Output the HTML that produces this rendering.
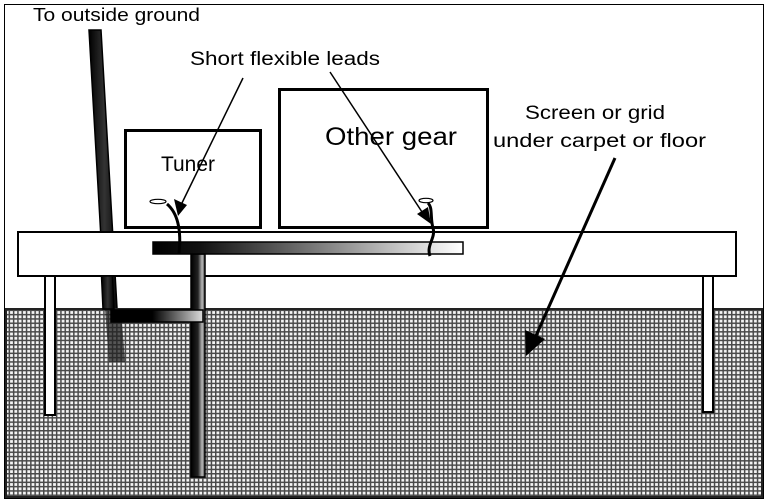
<!DOCTYPE html>
<html><head><meta charset="utf-8"><style>
html,body{margin:0;padding:0;background:#fff;}
svg{display:block;font-family:"Liberation Sans","DejaVu Sans",sans-serif;}
</style></head><body>
<svg width="768" height="502" viewBox="0 0 768 502" xmlns="http://www.w3.org/2000/svg">
<defs>
<pattern id="grid" width="4.3" height="4.3" patternUnits="userSpaceOnUse">
<rect width="4.3" height="4.3" fill="#4a4a4a"/>
<rect x="1.5" y="1.5" width="2.8" height="2.8" fill="#f4f4f4"/>
</pattern>
<linearGradient id="bus" x1="0" x2="1" y1="0" y2="0">
<stop offset="0" stop-color="#000"/><stop offset="0.15" stop-color="#111"/><stop offset="1" stop-color="#fff"/>
</linearGradient>
<linearGradient id="vbar" x1="0" x2="1">
<stop offset="0" stop-color="#000"/><stop offset="0.5" stop-color="#222"/><stop offset="0.8" stop-color="#bbb"/><stop offset="1" stop-color="#333"/>
</linearGradient>
<linearGradient id="hbar" x1="0" x2="1">
<stop offset="0" stop-color="#000"/><stop offset="0.45" stop-color="#000"/><stop offset="1" stop-color="#ddd"/>
</linearGradient>
<linearGradient id="pole" x1="0" x2="1">
<stop offset="0" stop-color="#000"/><stop offset="0.5" stop-color="#333"/><stop offset="1" stop-color="#000"/>
</linearGradient>
</defs>
<rect x="4.5" y="4.5" width="759" height="494" fill="#fff" stroke="#000" stroke-width="1"/>
<polygon points="89,30 101,30 120,360 108,360" fill="url(#pole)" stroke="#000" stroke-width="1.5"/>
<rect x="6" y="309" width="756" height="188" fill="url(#grid)" stroke="#222" stroke-width="2"/>
<polygon points="105,309 121,309 125,362 109,362" fill="#222" opacity="0.75"/>
<rect x="125.5" y="130.5" width="135" height="97" fill="#fff" stroke="#000" stroke-width="3"/>
<rect x="279.5" y="89.5" width="208" height="138" fill="#fff" stroke="#000" stroke-width="3"/>
<rect x="45" y="276" width="10" height="139" fill="#fff" stroke="#000" stroke-width="2"/>
<rect x="703" y="276" width="10" height="136" fill="#fff" stroke="#000" stroke-width="2"/>
<rect x="18" y="232" width="718" height="44" fill="#fff" stroke="#000" stroke-width="2"/>
<polygon points="101.5,276 112.5,276 114,309 103,309" fill="url(#pole)" stroke="#000" stroke-width="1.5"/>
<rect x="191" y="254" width="14" height="223" fill="url(#vbar)" stroke="#000" stroke-width="1.5"/>
<rect x="111" y="310" width="92" height="12" fill="url(#hbar)" stroke="#000" stroke-width="1.5"/>
<rect x="153" y="242" width="310" height="12" fill="url(#bus)" stroke="#000" stroke-width="1.5"/>
<path d="M179,254 C181,235 180,215 167,204" fill="none" stroke="#000" stroke-width="3"/>
<ellipse cx="158" cy="201.5" rx="8" ry="2.2" fill="#fff" stroke="#000" stroke-width="1.2"/>
<path d="M430,256 C426,245 436,238 433,228 C430,218 433,208 428,203" fill="none" stroke="#000" stroke-width="3"/>
<ellipse cx="426" cy="200.5" rx="7" ry="2.2" fill="#fff" stroke="#000" stroke-width="1.2"/>
<line x1="243" y1="78" x2="181" y2="205" stroke="#000" stroke-width="1.5"/>
<polygon points="178,216 174,199 187,205" fill="#000"/>
<line x1="330" y1="72" x2="424" y2="215" stroke="#000" stroke-width="1.5"/>
<polygon points="431,224 417,214 428,207" fill="#000"/>
<line x1="615" y1="158" x2="535" y2="338" stroke="#000" stroke-width="3"/>
<polygon points="526,356 525,330 545,339" fill="#000"/>
<text x="33" y="21" font-size="18" textLength="167" lengthAdjust="spacingAndGlyphs">To outside ground</text>
<text x="190" y="65" font-size="19" textLength="190" lengthAdjust="spacingAndGlyphs">Short flexible leads</text>
<text x="161" y="171" font-size="21" textLength="54" lengthAdjust="spacingAndGlyphs">Tuner</text>
<text x="325" y="145" font-size="25" textLength="132" lengthAdjust="spacingAndGlyphs">Other gear</text>
<text x="525" y="119" font-size="19" textLength="140" lengthAdjust="spacingAndGlyphs">Screen or grid</text>
<text x="493" y="147" font-size="19" textLength="213" lengthAdjust="spacingAndGlyphs">under carpet or floor</text>
</svg>
</body></html>
